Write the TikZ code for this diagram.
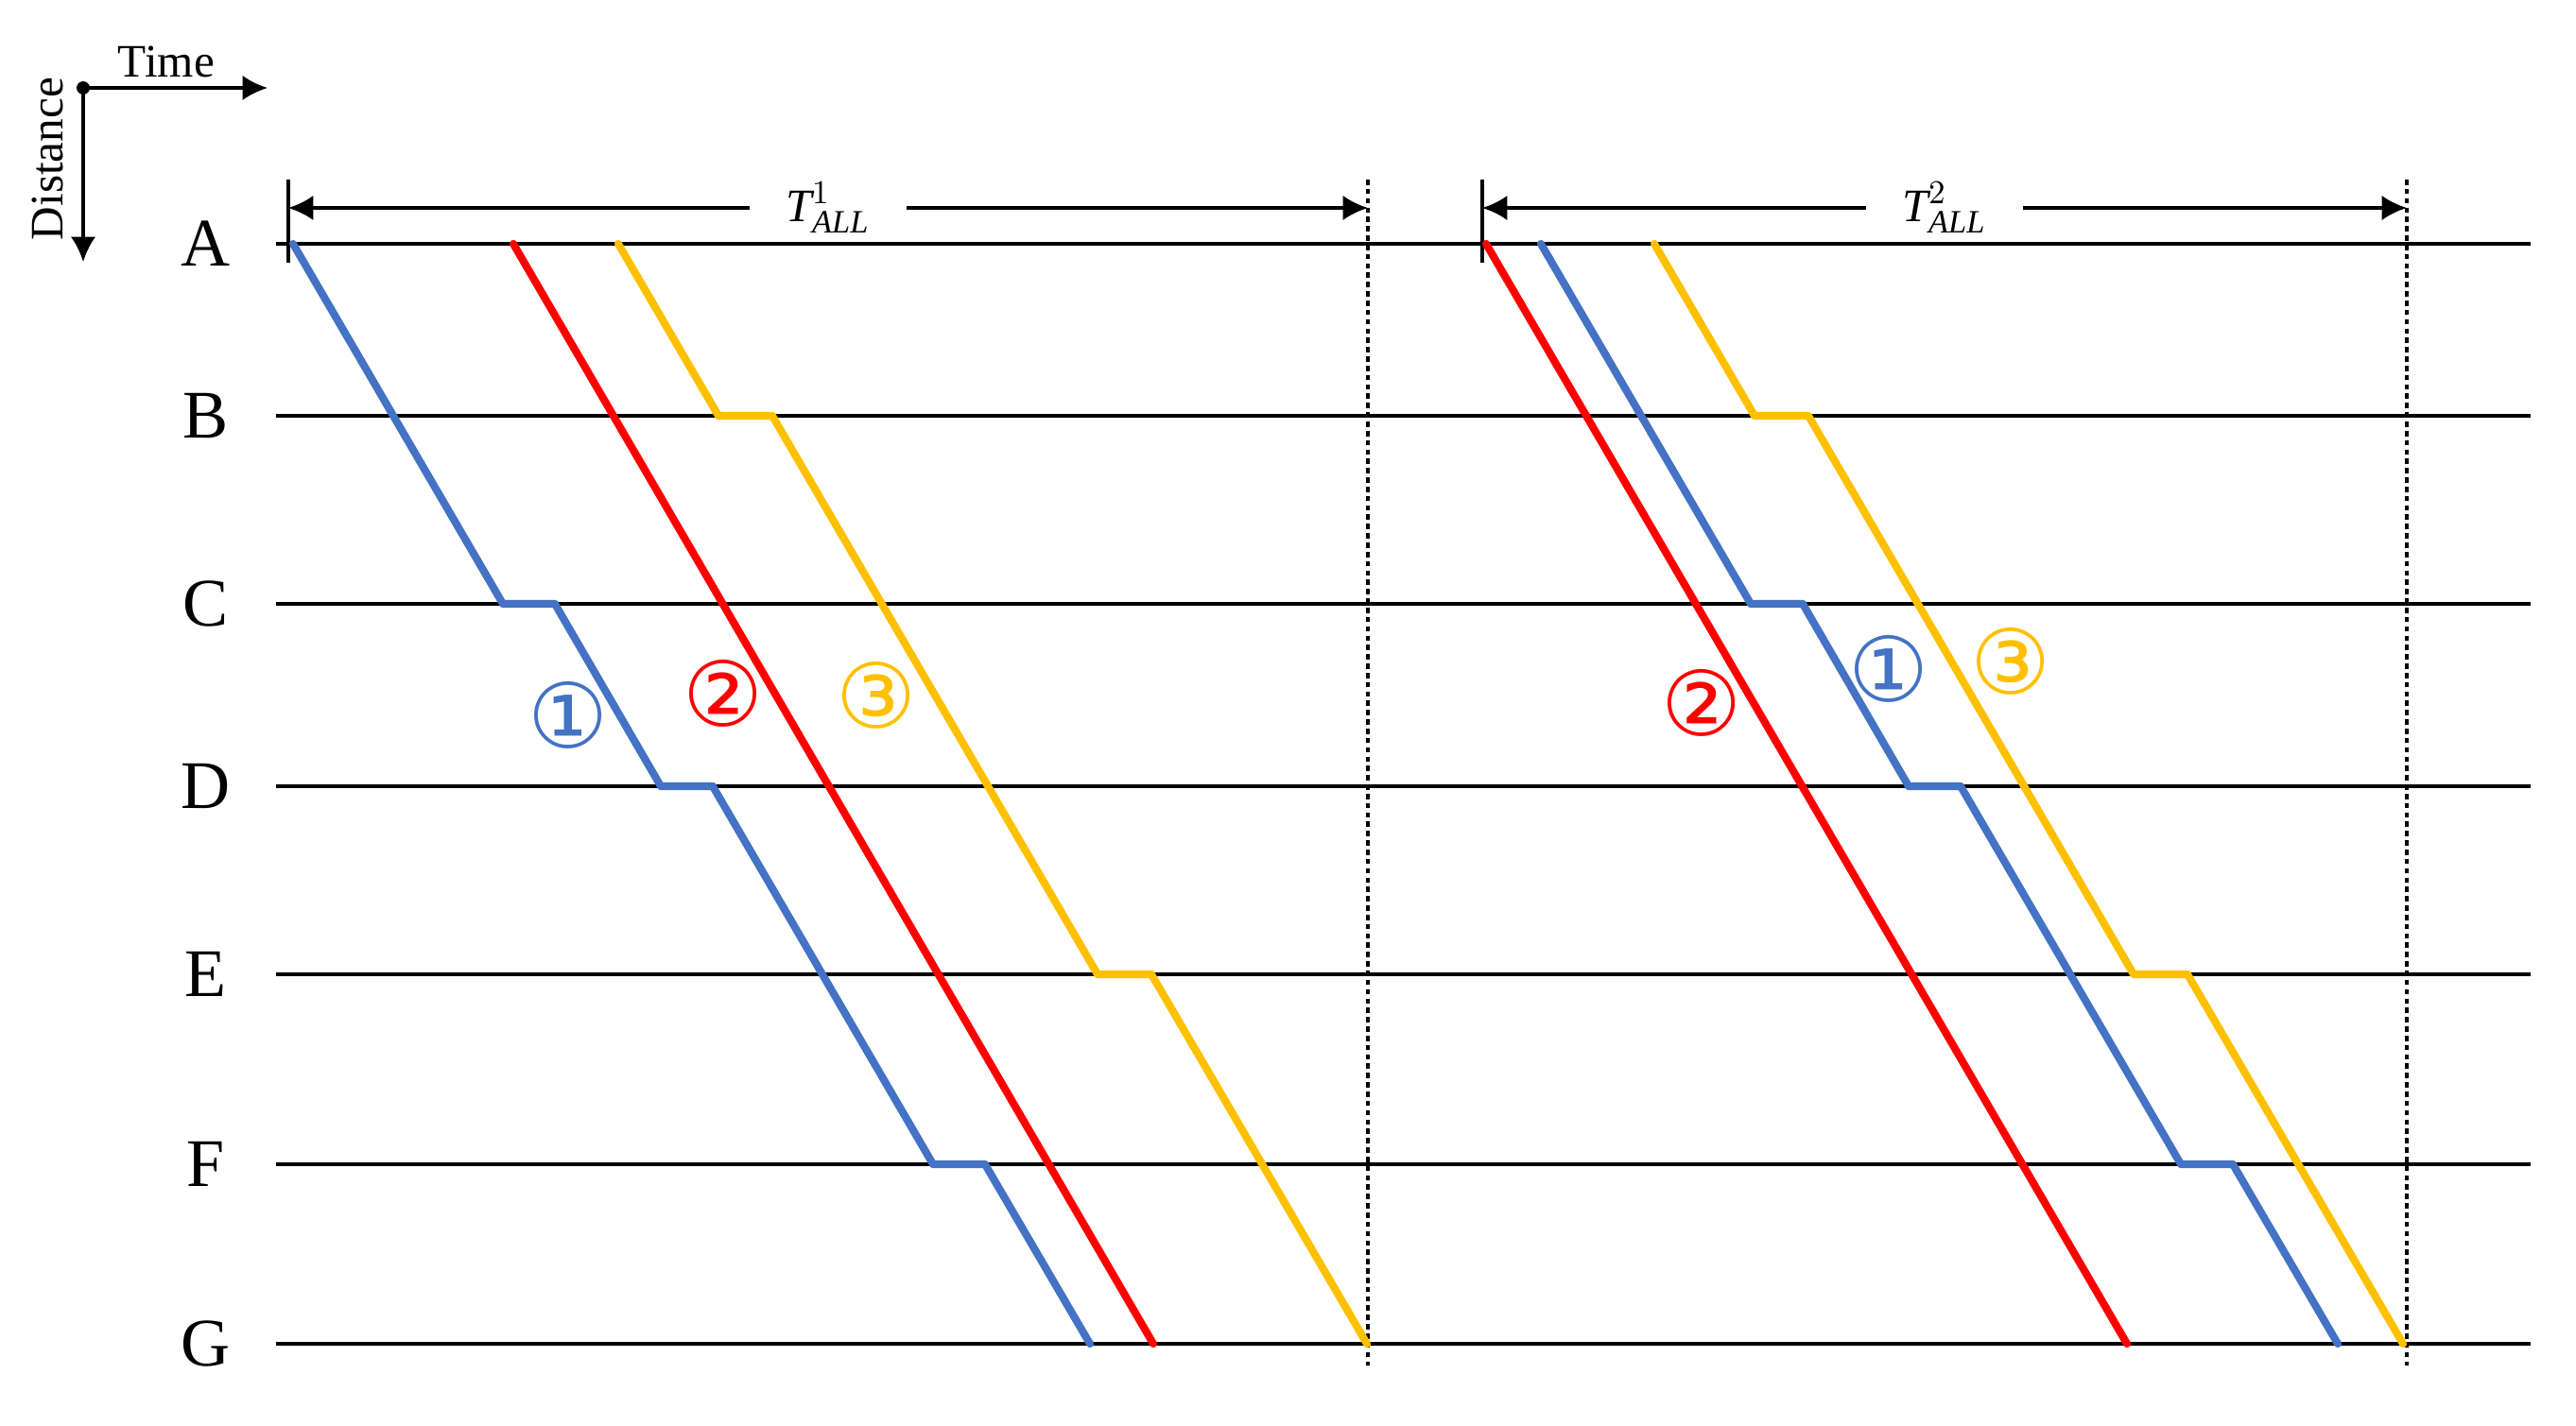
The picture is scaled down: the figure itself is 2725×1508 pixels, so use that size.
\documentclass[tikz,border=0pt]{standalone}
\usepackage{amsmath}
\usepackage{fontspec}
\setmainfont{Liberation Serif}
\newfontfamily\circfont{DejaVu Sans}
\usetikzlibrary{arrows.meta}
\definecolor{tblue}{RGB}{68,114,196}
\definecolor{tred}{RGB}{255,0,0}
\definecolor{tyellow}{RGB}{255,192,0}

\begin{document}
\begin{tikzpicture}[x=0.01cm, y=-0.01cm, >={Latex[length=7.5pt,width=7.5pt]},
	track/.style={line width=1.05pt},
	train/.style={line width=2.3pt, line cap=round, line join=round},
	limit/.style={line width=1pt, dash pattern=on 1.6pt off 1.2pt},
	stlabel/.style={font=\fontsize{20.5}{24}\selectfont, inner sep=0pt},
	num/.style={font=\circfont\fontsize{27}{27}\selectfont, inner sep=0pt},
	axlabel/.style={font=\fontsize{14}{16}\selectfont, inner sep=0pt}]
	\useasboundingbox (0,0) rectangle (2725,1508);
	%%%	Axes
	\node[circle, fill, inner sep=1.4pt] (o) at (88,93) {};
	\coordinate (tend) at (283,93);
	\coordinate (dend) at (88,277);
	\draw[track, ->] (o.center) -- (tend);
	\draw[track, ->] (o.center) -- (dend);
	\node[axlabel] (time) at (176,65) {Time};
	\node[axlabel, rotate=90] (dist) at (50,168) {Distance};
	%%%	Stations
	\foreach \s/\y in {A/258,B/440,C/639,D/832,E/1031,F/1232,G/1422} {
		\node[stlabel] (\s) at (218,\y) {\s};
		\coordinate (\s0) at (292,\y);
		\coordinate (\s1) at (2677,\y);
		\draw[track] (\s0) -- (\s1);
	}
	%%%	Periods
	\draw[track] (305,190) -- (305,278);
	\draw[track] (1568,190) -- (1568,278);
	\draw[limit] (1447,190) -- (1447,1445);
	\draw[limit] (2546,190) -- (2546,1445);
	\coordinate (s1) at (305,220);
	\coordinate (e1) at (1447,220);
	\coordinate (s2) at (1568,220);
	\coordinate (e2) at (2546,220);
	\draw[track, <->] (s1) -- node[axlabel, fill=white, inner xsep=11pt, inner ysep=2pt] (tall1) {$\textit{T}^{1}_{\textit{ALL}}$} (e1);
	\draw[track, <->] (s2) -- node[axlabel, fill=white, inner xsep=11pt, inner ysep=2pt] (tall2) {$\textit{T}^{2}_{\textit{ALL}}$} (e2);
	%%%	First period
	\draw[train, tblue] (310,258) -- (532,639) -- (587,639) -- (699,832) -- (754,832) -- (987,1232) -- (1042,1232) -- (1153,1422);
	\draw[train, tred] (543,258) -- (1220,1422);
	\draw[train, tyellow] (654,258) -- (760,440) -- (817,440) -- (1161,1031) -- (1218,1031) -- (1446,1422);
	\node[num, tblue] (n1a) at (601,757) {①};
	\node[num, tred] (n2a) at (765,734) {②};
	\node[num, tyellow] (n3a) at (927,736) {③};
	%%%	Second period
	\draw[train, tred] (1572,258) -- (2250,1422);
	\draw[train, tblue] (1630,258) -- (1852,639) -- (1907,639) -- (2019,832) -- (2074,832) -- (2307,1232) -- (2362,1232) -- (2473,1422);
	\draw[train, tyellow] (1750,258) -- (1856,440) -- (1913,440) -- (2257,1031) -- (2314,1031) -- (2542,1422);
	\node[num, tred] (n2b) at (1800,744) {②};
	\node[num, tblue] (n1b) at (1998,708) {①};
	\node[num, tyellow] (n3b) at (2127,700) {③};
\end{tikzpicture}
\end{document}
